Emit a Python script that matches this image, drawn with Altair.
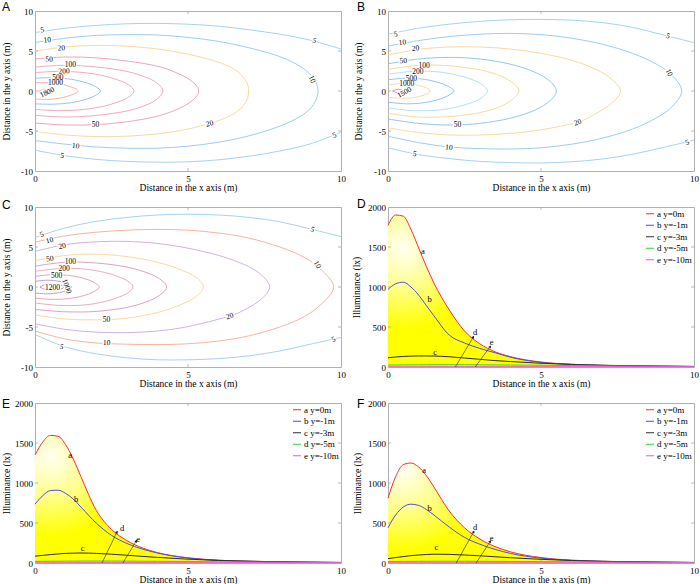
import altair as alt
import pandas as pd

SERIF = "Liberation Serif"
SANS = "Liberation Sans"
W, H = 306, 160

# ---------------- Panel A contours (x, y points) ----------------
A_5U = [(0,7.3),(1,7.85),(2,8.2),(3,8.4),(4,8.45),(5,8.35),(6,8.1),(7,7.65),(8,7.1),(9,6.35),(10,5.25)]
A_5L = [(0,-7.4),(1,-8.1),(2,-8.55),(3,-8.8),(4,-8.9),(5,-8.85),(6,-8.6),(7,-8.15),(8,-7.5),(9,-6.6),(10,-5.15)]
A_10 = [(0,6.05),(1,6.6),(2,6.95),(3,7.05),(4,7.0),(5,6.7),(6,6.2),(7,5.4),(8,4.3),(8.7,3.0),(9.1,1.6),(9.25,0),(9.1,-1.7),(8.7,-3.1),(8,-4.4),(7,-5.6),(6,-6.4),(5,-6.9),(4,-7.15),(3,-7.15),(2,-7.0),(1,-6.65),(0,-6.2)]
A_20 = [(0,5.0),(1,5.5),(2,5.7),(3,5.6),(4,5.25),(5,4.6),(6,3.6),(6.6,2.5),(6.9,1.2),(6.98,0),(6.9,-1.3),(6.6,-2.6),(6,-3.7),(5,-4.75),(4,-5.35),(3,-5.65),(2,-5.7),(1,-5.5),(0,-5.05)]
A_50 = [(0,4.0),(1,4.25),(2,4.15),(3,3.75),(4,3.1),(4.7,2.15),(5.15,1.15),(5.35,0),(5.15,-1.15),(4.7,-2.2),(4,-3.15),(3,-3.85),(2,-4.2),(1,-4.25),(0,-4.0)]
A_100 = [(0,3.0),(1,3.2),(2,3.0),(3,2.45),(3.7,1.6),(4.05,0.8),(4.18,0),(4.05,-0.8),(3.7,-1.65),(3,-2.5),(2,-3.05),(1,-3.25),(0,-3.05)]
A_200 = [(0,2.3),(0.8,2.45),(1.6,2.3),(2.3,1.85),(2.9,1.1),(3.15,0.5),(3.23,0),(3.15,-0.5),(2.9,-1.1),(2.3,-1.85),(1.6,-2.3),(0.8,-2.45),(0,-2.3)]
A_500 = [(0,1.6),(0.6,1.65),(1.2,1.45),(1.7,1.0),(2.0,0.5),(2.14,0),(2.0,-0.5),(1.7,-1.0),(1.2,-1.45),(0.6,-1.65),(0,-1.6)]
A_1000 = [(0,1.05),(0.4,1.05),(0.8,0.9),(1.15,0.55),(1.35,0.25),(1.4,0),(1.35,-0.25),(1.15,-0.55),(0.8,-0.9),(0.4,-1.05),(0,-1.0)]
A_1800 = [(0.12,0),(0.3,0.22),(0.5,0.15),(0.6,0),(0.5,-0.15),(0.3,-0.22),(0.12,0)]
A_IDS = ["5u","5l","10","20","50","100","200","500","1000","1800"]
A_COLORS = ["#9ccdec","#9ccdec","#92c7ea","#f4d792","#ea9cb0","#eaa2b5","#eaa2b5","#88c0e8","#f3a99c","#f3a99c"]
A_LAB_T = ["5","10","20","50","100","200","500","1000","1800","50","20","10","5","5","10","5"]
A_LAB_X = [0.24,0.4,0.86,0.46,1.16,0.95,0.75,0.67,0.4,1.98,5.71,1.33,0.89,9.13,9.05,9.79]
A_LAB_Y = [7.6,6.35,5.35,3.94,3.24,2.45,1.62,1.04,-0.2,-4.19,-4.1,-6.9,-8.1,6.27,1.45,-5.56]
A_LAB_A = [352,354,356,358,0,358,0,0,335,0,345,5,10,16,65,339]

# ---------------- Panel B contours ----------------
B_5U = [(0,7.1),(1,7.85),(2,8.35),(3,8.7),(4,8.9),(5,8.95),(6,8.85),(7,8.55),(8,7.95),(9,7.0),(10,6.05)]
B_5L = [(0,-7.1),(1,-7.95),(2,-8.45),(3,-8.8),(4,-8.95),(5,-9.0),(6,-8.85),(7,-8.5),(8,-7.9),(9,-7.05),(10,-6.15)]
B_10 = [(0,5.6),(1,6.3),(2,6.8),(3,7.1),(4,7.2),(5,7.05),(6,6.6),(7,5.85),(8,4.7),(8.8,3.3),(9.3,1.9),(9.6,0),(9.3,-1.9),(8.8,-3.3),(8,-4.75),(7,-5.9),(6,-6.65),(5,-7.1),(4,-7.25),(3,-7.2),(2,-7.0),(1,-6.45),(0,-5.65)]
B_20 = [(0,4.5),(1,5.2),(2,5.5),(3,5.5),(4,5.25),(5,4.7),(6,3.85),(6.8,2.7),(7.3,1.5),(7.6,0),(7.3,-1.55),(6.8,-2.8),(6.2,-3.9),(5,-4.85),(4,-5.3),(3,-5.5),(2,-5.5),(1,-5.2),(0,-4.6)]
B_50 = [(0,3.4),(1,4.0),(2,4.2),(3,4.0),(4,3.35),(4.8,2.35),(5.3,1.2),(5.5,0),(5.3,-1.2),(4.8,-2.4),(4,-3.4),(3,-4.05),(2,-4.25),(1,-4.05),(0,-3.5)]
B_100 = [(0,2.7),(1,3.2),(2,3.15),(3,2.65),(3.7,1.85),(4.1,0.95),(4.28,0),(4.1,-0.95),(3.7,-1.9),(3,-2.7),(2,-3.2),(1,-3.25),(0,-2.8)]
B_200 = [(0,2.1),(0.8,2.45),(1.6,2.4),(2.3,1.95),(2.9,1.2),(3.15,0.55),(3.25,0),(3.15,-0.55),(2.9,-1.2),(2.3,-1.95),(1.6,-2.4),(0.8,-2.45),(0,-2.1)]
B_500 = [(0,1.4),(0.6,1.6),(1.2,1.45),(1.7,1.0),(2.0,0.5),(2.16,0),(2.0,-0.5),(1.7,-1.0),(1.2,-1.45),(0.6,-1.6),(0,-1.4)]
B_1000 = [(0,0.75),(0.4,0.92),(0.8,0.85),(1.15,0.55),(1.32,0.25),(1.37,0),(1.32,-0.25),(1.15,-0.55),(0.8,-0.85),(0.4,-0.92),(0,-0.8)]
B_1500 = [(0.15,0),(0.3,0.2),(0.5,0.15),(0.6,0),(0.5,-0.15),(0.3,-0.2),(0.15,0)]
B_IDS = ["5u","5l","10","20","50","100","200","500","1000","1500"]
B_COLORS = ["#9ccdec","#9ccdec","#92c7ea","#f4d792","#88c0e8","#f4d792","#aaddef","#88c0e8","#f4d792","#d885bb"]
B_LAB_T = ["5","10","20","50","100","200","500","1000","1500","50","20","10","5","5","10","5"]
B_LAB_X = [0.25,0.47,0.9,0.5,1.18,0.98,0.76,0.61,0.54,2.27,6.2,1.99,0.87,9.15,9.18,9.78]
B_LAB_Y = [7.08,6.04,5.3,3.75,3.1,2.4,1.54,0.83,-0.2,-4.25,-3.96,-7.08,-7.9,6.83,2.29,-6.46]
B_LAB_A = [350,352,355,356,0,0,0,0,330,0,340,5,10,20,65,340]

# ---------------- Panel C contours ----------------
C_5U = [(0,6.2),(1,7.4),(2,8.2),(3,8.7),(4,9.0),(5,9.1),(6,9.0),(7,8.7),(8,8.15),(9,7.25),(10,6.3)]
C_5L = [(0,-5.95),(1,-7.5),(2,-8.35),(3,-8.85),(4,-9.1),(5,-9.1),(6,-8.95),(7,-8.6),(8,-8.0),(9,-7.15),(10,-6.3)]
C_10 = [(0,5.6),(1,6.4),(2,6.85),(3,7.1),(4,7.2),(5,7.1),(6,6.75),(7,6.1),(8,5.0),(8.8,3.7),(9.4,2.0),(9.76,0),(9.4,-2.0),(8.8,-3.7),(8,-5.0),(7,-6.1),(6,-6.75),(5,-7.1),(4,-7.2),(3,-7.15),(2,-7.0),(1,-6.5),(0,-5.5)]
C_20 = [(0,4.45),(1,5.3),(2,5.65),(3,5.7),(4,5.45),(5,4.85),(6,3.95),(6.9,2.7),(7.4,1.5),(7.67,0),(7.4,-1.5),(6.9,-2.75),(6.3,-3.7),(5,-4.95),(4,-5.5),(3,-5.7),(2,-5.65),(1,-5.3),(0,-4.6)]
C_50 = [(0,3.3),(1,3.95),(2,4.1),(3,3.8),(4,3.1),(4.8,2.1),(5.3,1.1),(5.5,0),(5.3,-1.1),(4.8,-2.15),(4,-3.2),(3,-3.9),(2,-4.1),(1,-4.0),(0,-3.5)]
C_100 = [(0,2.6),(1,3.1),(2,3.0),(3,2.5),(3.75,1.65),(4.15,0.8),(4.3,0),(4.15,-0.8),(3.75,-1.7),(3,-2.55),(2,-3.05),(1,-3.1),(0,-2.8)]
C_200 = [(0,1.95),(0.8,2.3),(1.6,2.25),(2.3,1.8),(2.85,1.1),(3.12,0.5),(3.2,0),(3.12,-0.5),(2.85,-1.1),(2.3,-1.8),(1.6,-2.25),(0.8,-2.3),(0,-2.0)]
C_500 = [(0,1.33),(0.6,1.55),(1.2,1.4),(1.7,0.95),(1.98,0.45),(2.1,0),(1.98,-0.45),(1.7,-0.95),(1.2,-1.4),(0.6,-1.55),(0,-1.4)]
C_1000 = [(0,0.7),(0.4,0.85),(0.8,0.7),(1.05,0.4),(1.2,0),(1.05,-0.4),(0.8,-0.7),(0.4,-0.85),(0,-0.75)]
C_1200 = [(0.16,0),(0.4,0.4),(0.75,0.35),(0.95,0),(0.75,-0.35),(0.4,-0.4),(0.16,0)]
C_IDS = ["5u","5l","10","20","50","100","200","500","1000","1200"]
C_COLORS = ["#9ccdec","#9ccdec","#f4ac94","#cba8dc","#f4d792","#d996bd","#eaa2b5","#e898ae","#b690d2","#a67ccb"]
C_LAB_T = ["5","10","20","50","100","200","500","1000","1200","50","20","10","5","5","10","5"]
C_LAB_X = [0.22,0.48,0.89,0.49,1.16,0.95,0.71,1.03,0.57,2.34,6.37,2.34,0.87,9.07,9.22,9.76]
C_LAB_Y = [6.54,5.79,5.08,3.5,3.08,2.25,1.33,0.08,-0.13,-4.08,-3.67,-7.0,-7.5,7.17,2.79,-6.58]
C_LAB_A = [340,345,350,352,0,0,0,70,0,0,340,3,15,20,60,340]

# ---------------- Illuminance curves D / E / F ----------------
XG = [0, 0.25, 0.5, 0.75, 1.0, 1.25, 1.5, 2.0, 2.5, 3.0, 3.5, 4.0, 5.0, 6.0, 7.0, 8.0, 9.0, 10.0]
SERIES = ["a y=0m", "b y=-1m", "c y=-3m", "d y=-5m", "e y=-10m"]
SERIES_COLORS = ["#ff2a2a", "#4d4de0", "#2e2e2e", "#2ed42e", "#ff44ff"]

D_A = [1770, 1900, 1885, 1720, 1490, 1260, 1050, 715, 450, 290, 190, 130, 62, 34, 21, 14, 10, 7]
D_B = [970, 1040, 1060, 1000, 900, 770, 640, 400, 300, 232, 178, 122, 58, 33, 20, 13, 9, 6]
D_C = [115, 125, 132, 136, 138, 138, 137, 128, 112, 96, 80, 68, 47, 32, 22, 15, 10, 7]
D_D = [24, 25, 26, 26, 27, 27, 28, 28, 28, 27, 26, 25, 22, 18, 14, 11, 9, 7]
D_E = [3, 3, 3, 3, 3, 4, 4, 4, 4, 4, 4, 4, 4, 4, 4, 4, 4, 3]

E_A = [1350, 1510, 1595, 1585, 1480, 1300, 1080, 660, 420, 280, 190, 130, 65, 35, 22, 15, 10, 7]
E_B = [735, 840, 905, 910, 870, 800, 700, 500, 345, 245, 175, 125, 62, 33, 21, 14, 9, 6]
E_C = [85, 95, 105, 113, 120, 123, 125, 120, 110, 97, 83, 70, 48, 32, 22, 15, 10, 7]
E_D = [20, 21, 22, 22, 23, 23, 24, 24, 24, 23, 22, 21, 19, 16, 13, 10, 8, 6]
E_E = [3, 3, 3, 3, 3, 3, 4, 4, 4, 4, 4, 4, 4, 4, 4, 4, 3, 3]

F_A = [810, 1080, 1230, 1250, 1200, 1095, 950, 650, 440, 300, 205, 140, 68, 36, 22, 15, 10, 7]
F_B = [440, 600, 700, 735, 720, 670, 600, 450, 320, 235, 170, 120, 60, 32, 20, 13, 9, 6]
F_C = [55, 68, 80, 92, 100, 106, 110, 108, 100, 90, 78, 66, 46, 31, 21, 14, 10, 7]
F_D = [18, 19, 20, 20, 21, 21, 22, 22, 22, 21, 20, 19, 17, 15, 12, 10, 8, 6]
F_E = [3, 3, 3, 3, 3, 3, 3, 3, 3, 3, 3, 3, 3, 3, 3, 3, 3, 3]

CURVE_LAB_T = ["a", "b", "c", "d", "e"]
D_LAB_X = [1.14, 1.36, 1.54, 2.85, 3.39]
D_LAB_Y = [1456, 849, 192, 443, 318]
E_LAB_X = [1.15, 1.34, 1.56, 2.85, 3.37]
E_LAB_Y = [1351, 799, 188, 439, 305]
F_LAB_X = [1.18, 1.36, 1.58, 2.85, 3.39]
F_LAB_Y = [1163, 692, 197, 449, 314]

D_LEAD_X0 = [2.2, 2.85]
D_LEAD_X1 = [2.79, 3.34]
D_LEAD_Y1 = [376, 255]
E_LEAD_X0 = [2.19, 2.87]
E_LEAD_X1 = [2.68, 3.31]
E_LEAD_Y1 = [389, 275]
F_LEAD_X0 = [2.23, 2.88]
F_LEAD_X1 = [2.8, 3.34]
F_LEAD_Y1 = [390, 270]

TICK = "#a8a8a8"
NEG = "datum.value < 0 ? '-' + format(-datum.value, 'd') : format(datum.value, 'd')"


def make_xy(ydom, yvals, ytitle, title_x):
    xs = alt.Scale(domain=[0, 10], nice=False, zero=False)
    ys = alt.Scale(domain=ydom, nice=False, zero=False)
    common = dict(ticks=False, domain=False, grid=False, labelFont=SERIF, labelFontSize=9,
                  labelColor="black", titleFont=SERIF, titleFontSize=9.5, titleFontWeight="normal",
                  titleColor="black", labelFlush=False, labelOverlap=False, labelExpr=NEG,
                  titleBaseline="middle")
    xax = alt.Axis(values=[0, 5, 10], title="Distance in the x axis (m)", labelPadding=3,
                   titleX=W / 2, titleY=16, **common)
    yax = alt.Axis(values=yvals, title=ytitle, labelPadding=2.5, titleX=title_x, titleY=H / 2,
                   titleAngle=270, **common)
    X = alt.X("x:Q", scale=xs, axis=xax)
    Y = alt.Y("y:Q", scale=ys, axis=yax)
    return X, Y


def frame_ticks(X, Y, xin, yin):
    xt = pd.DataFrame({"x": xin})
    yt = pd.DataFrame({"y": yin})
    return [
        alt.Chart(xt).mark_rule(color=TICK, strokeWidth=0.8).encode(x=X, y=alt.value(H), y2=alt.value(H - 3)),
        alt.Chart(xt).mark_rule(color=TICK, strokeWidth=0.8).encode(x=X, y=alt.value(0), y2=alt.value(3)),
        alt.Chart(yt).mark_rule(color=TICK, strokeWidth=0.8).encode(y=Y, x=alt.value(0), x2=alt.value(3)),
        alt.Chart(yt).mark_rule(color=TICK, strokeWidth=0.8).encode(y=Y, x=alt.value(W), x2=alt.value(W - 3)),
    ]


def letter_layer(letter, dx, dy):
    return alt.Chart(pd.DataFrame({"t": [letter]})).mark_text(
        font=SANS, fontSize=12, align="left", baseline="alphabetic", color="black"
    ).encode(text="t:N", x=alt.value(dx), y=alt.value(dy))


def contour_panel(paths, ids, colors, lt, lx, ly, la, letter, ldx, ldy, title_x):
    X, Y = make_xy([-10, 10], [-10, -5, 0, 5, 10], "Distance in the y axis (m)", title_x)
    rows = []
    for cid, pts in zip(ids, paths):
        for i, (x, y) in enumerate(pts):
            rows.append({"cid": cid, "i": i, "x": x, "y": y})
    df = pd.DataFrame(rows)
    lines = alt.Chart(df).mark_line(interpolate="cardinal", strokeWidth=0.9, clip=True).encode(
        x=X, y=Y, order="i:Q",
        color=alt.Color("cid:N", scale=alt.Scale(domain=ids, range=colors), legend=None),
    )
    lab = pd.DataFrame({"t": lt, "x": lx, "y": ly, "a": la})
    halo = alt.Chart(lab).mark_text(font=SERIF, fontSize=7.5, stroke="white", strokeWidth=2.5,
                                    fill="white").encode(x=X, y=Y, text="t:N",
                                                         angle=alt.Angle("a:Q", scale=None))
    txt = alt.Chart(lab).mark_text(font=SERIF, fontSize=7.5, color="black").encode(
        x=X, y=Y, text="t:N", angle=alt.Angle("a:Q", scale=None))
    layers = [lines, halo, txt] + frame_ticks(X, Y, [5], [-5, 0, 5]) + [letter_layer(letter, ldx, ldy)]
    return alt.layer(*layers).properties(width=W, height=H)


def illum_panel(ya, yb, yc, yd, ye, lx, ly, lx0, lx1, ly1, letter, ldx, ldy, title_x):
    X, Y = make_xy([0, 2000], [0, 500, 1000, 1500, 2000], "Illuminance (lx)", title_x)
    area_df = pd.DataFrame({"x": XG, "y": ya})
    grad = alt.RadialGradient(
        gradient="radial",
        stops=[alt.GradientStop(offset=0, color="#fffff2"),
               alt.GradientStop(offset=0.5, color="#ffff8c"),
               alt.GradientStop(offset=1, color="#ffff00")],
        x1=0.05, y1=0.36, r1=0, x2=0.05, y2=0.36, r2=0.26,
    )
    area = alt.Chart(area_df).mark_area(interpolate="monotone", color=grad).encode(x=X, y=Y)
    rows = []
    for s, vals in zip(SERIES, [ya, yb, yc, yd, ye]):
        for x, y in zip(XG, vals):
            rows.append({"s": s, "x": x, "y": y})
    ldf = pd.DataFrame(rows)
    lines = alt.Chart(ldf).mark_line(interpolate="monotone", strokeWidth=1).encode(
        x=X, y=Y,
        color=alt.Color("s:N", scale=alt.Scale(domain=SERIES, range=SERIES_COLORS),
                        legend=alt.Legend(orient="top-right", title=None, symbolType="stroke",
                                          symbolSize=64, symbolStrokeWidth=1.2, labelFont=SERIF,
                                          labelFontSize=9, labelColor="black", labelOffset=2,
                                          rowPadding=1.5, clipHeight=9.5, offset=2, padding=0)),
    )
    lead = pd.DataFrame({"x": lx0, "x2": lx1, "y": [0, 0], "y2": ly1})
    leads = alt.Chart(lead).mark_rule(color="#222222", strokeWidth=0.6).encode(
        x=X, x2="x2:Q", y=Y, y2="y2:Q")
    heads = alt.Chart(pd.DataFrame({"x": lx1, "y": ly1})).mark_point(
        shape="triangle-up", size=10, filled=True, color="#222222", angle=32, opacity=1
    ).encode(x=X, y=Y)
    lab = pd.DataFrame({"t": CURVE_LAB_T, "x": lx, "y": ly})
    txt = alt.Chart(lab).mark_text(font=SERIF, fontSize=8.5, color="black").encode(x=X, y=Y, text="t:N")
    layers = [area, lines, leads, heads, txt] + frame_ticks(X, Y, [5], [500, 1000, 1500]) + \
        [letter_layer(letter, ldx, ldy)]
    return alt.layer(*layers).properties(width=W, height=H)


pA = contour_panel([A_5U, A_5L, A_10, A_20, A_50, A_100, A_200, A_500, A_1000, A_1800], A_IDS, A_COLORS,
                   A_LAB_T, A_LAB_X, A_LAB_Y, A_LAB_A, "A", -33, -0.5, -28.5)
pB = contour_panel([B_5U, B_5L, B_10, B_20, B_50, B_100, B_200, B_500, B_1000, B_1500], B_IDS, B_COLORS,
                   B_LAB_T, B_LAB_X, B_LAB_Y, B_LAB_A, "B", -31, 0, -29.2)
pC = contour_panel([C_5U, C_5L, C_10, C_20, C_50, C_100, C_200, C_500, C_1000, C_1200], C_IDS, C_COLORS,
                   C_LAB_T, C_LAB_X, C_LAB_Y, C_LAB_A, "C", -33, 2.3, -29)
pD = illum_panel(D_A, D_B, D_C, D_D, D_E, D_LAB_X, D_LAB_Y, D_LEAD_X0, D_LEAD_X1, D_LEAD_Y1,
                 "D", -31, 0.7, -31.3)
pE = illum_panel(E_A, E_B, E_C, E_D, E_E, E_LAB_X, E_LAB_Y, E_LEAD_X0, E_LEAD_X1, E_LEAD_Y1,
                 "E", -33, 4.7, -29)
pF = illum_panel(F_A, F_B, F_C, F_D, F_E, F_LAB_X, F_LAB_Y, F_LEAD_X0, F_LEAD_X1, F_LEAD_Y1,
                 "F", -31, 4.7, -30.7)

chart = alt.concat(pA, pB, pC, pD, pE, pF, columns=2, spacing={"row": 36, "column": 47},
                   bounds="flush").resolve_scale(
    x="independent", y="independent", color="independent"
).properties(
    padding={"left": 0, "top": 0, "right": 0, "bottom": 0}, background="white"
).configure(font=SERIF).configure_view(stroke="#b0b0b0", strokeWidth=1)

chart.save("out.html", embed_options={"renderer": "svg", "actions": False})
